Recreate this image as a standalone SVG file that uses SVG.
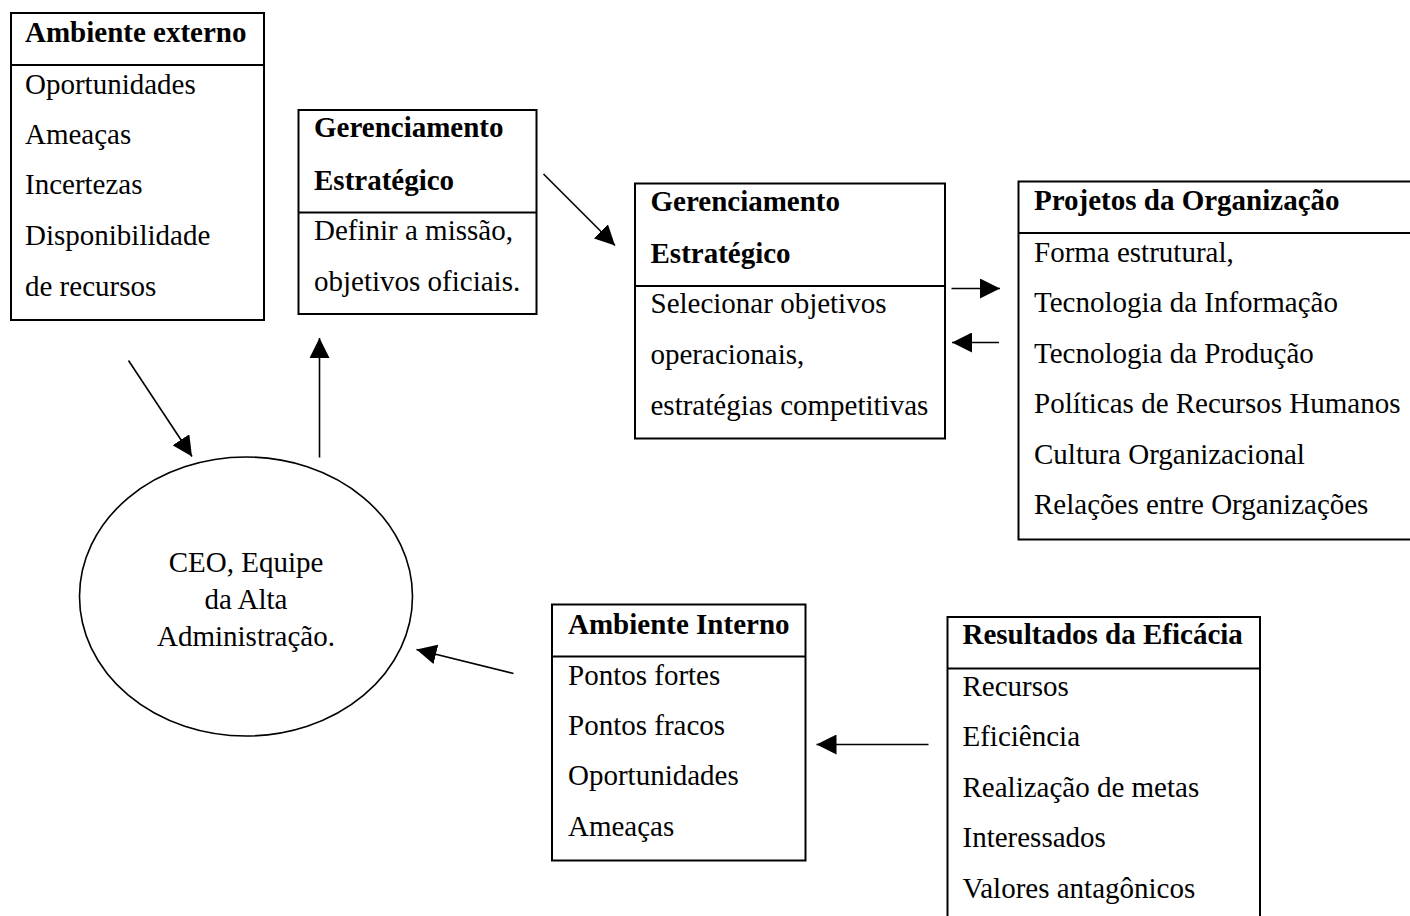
<svg xmlns="http://www.w3.org/2000/svg" width="1410" height="916" viewBox="0 0 1410 916">
  <style>
    .box { fill: #fff; stroke: #000; stroke-width: 2; }
    .div { stroke: #000; stroke-width: 2; }
    .t { font-family: "Liberation Serif", "Times New Roman", serif; font-size: 29px; fill: #000; }
    .b { font-weight: bold; }
    .c { text-anchor: middle; }
    .arrow { stroke: #000; stroke-width: 1.6; fill: none; marker-end: url(#head); }
  </style>
  <defs>
    <marker id="head" markerUnits="userSpaceOnUse" markerWidth="20" markerHeight="20" viewBox="0 0 20 20" refX="20" refY="10" orient="auto">
      <path d="M0,0 L20,10 L0,20 z" fill="#000"/>
    </marker>
  </defs>
  <rect width="1410" height="916" fill="#fff"/>

  <!-- external environment -->
  <g id="ambiente-externo">
    <rect class="box" x="11" y="13" width="253" height="307"/>
    <line class="div" x1="11" y1="65" x2="264" y2="65"/>
    <text class="t b" x="25" y="42">Ambiente externo</text>
    <text class="t" x="25" y="94">Oportunidades</text>
    <text class="t" x="25" y="144">Ameaças</text>
    <text class="t" x="25" y="194">Incertezas</text>
    <text class="t" x="25" y="245">Disponibilidade</text>
    <text class="t" x="25" y="296">de recursos</text>
  </g>

  <!-- strategic management: mission -->
  <g id="gerenciamento-1">
    <rect class="box" x="298.5" y="110" width="238" height="204"/>
    <line class="div" x1="298.5" y1="212.5" x2="536.5" y2="212.5"/>
    <text class="t b" x="314" y="137">Gerenciamento</text>
    <text class="t b" x="314" y="189.5">Estratégico</text>
    <text class="t" x="314" y="239.5">Definir a missão,</text>
    <text class="t" x="314" y="291">objetivos oficiais.</text>
  </g>

  <!-- strategic management: operational goals -->
  <g id="gerenciamento-2">
    <rect class="box" x="635" y="183.5" width="310" height="255"/>
    <line class="div" x1="635" y1="286" x2="945" y2="286"/>
    <text class="t b" x="650.5" y="211">Gerenciamento</text>
    <text class="t b" x="650.5" y="263">Estratégico</text>
    <text class="t" x="650.5" y="313">Selecionar objetivos</text>
    <text class="t" x="650.5" y="364">operacionais,</text>
    <text class="t" x="650.5" y="414.5">estratégias competitivas</text>
  </g>

  <!-- organisation design -->
  <g id="projetos">
    <rect class="box" x="1018.5" y="181.5" width="400" height="358"/>
    <line class="div" x1="1018.5" y1="233" x2="1418" y2="233"/>
    <text class="t b" x="1034" y="210">Projetos da Organização</text>
    <text class="t" x="1034" y="262">Forma estrutural,</text>
    <text class="t" x="1034" y="312">Tecnologia da Informação</text>
    <text class="t" x="1034" y="362.5">Tecnologia da Produção</text>
    <text class="t" x="1034" y="413">Políticas de Recursos Humanos</text>
    <text class="t" x="1034" y="464">Cultura Organizacional</text>
    <text class="t" x="1034" y="514">Relações entre Organizações</text>
  </g>

  <!-- top management -->
  <g id="ceo">
    <ellipse cx="246" cy="596.5" rx="166.5" ry="139.5" fill="#fff" stroke="#000" stroke-width="1.6"/>
    <text class="t c" x="246" y="572">CEO, Equipe</text>
    <text class="t c" x="246" y="609">da Alta</text>
    <text class="t c" x="246" y="646">Administração.</text>
  </g>

  <!-- internal environment -->
  <g id="ambiente-interno">
    <rect class="box" x="552" y="604.5" width="253.5" height="256"/>
    <line class="div" x1="552" y1="656.5" x2="805.5" y2="656.5"/>
    <text class="t b" x="568" y="634">Ambiente Interno</text>
    <text class="t" x="568" y="684.5">Pontos fortes</text>
    <text class="t" x="568" y="734.5">Pontos fracos</text>
    <text class="t" x="568" y="785">Oportunidades</text>
    <text class="t" x="568" y="836">Ameaças</text>
  </g>

  <!-- effectiveness outcomes -->
  <g id="resultados">
    <rect class="box" x="947.5" y="617" width="312.5" height="320"/>
    <line class="div" x1="947.5" y1="668.5" x2="1260" y2="668.5"/>
    <text class="t b" x="962.5" y="644">Resultados da Eficácia</text>
    <text class="t" x="962.5" y="696">Recursos</text>
    <text class="t" x="962.5" y="746">Eficiência</text>
    <text class="t" x="962.5" y="797">Realização de metas</text>
    <text class="t" x="962.5" y="847">Interessados</text>
    <text class="t" x="962.5" y="897.5">Valores antagônicos</text>
  </g>

  <!-- connectors -->
  <g id="connectors">
    <line class="arrow" x1="128.5" y1="360.5" x2="192" y2="456.5"/>
    <line class="arrow" x1="319.5" y1="457.5" x2="319.5" y2="338"/>
    <line class="arrow" x1="543.5" y1="174" x2="615" y2="245.5"/>
    <line class="arrow" x1="951.5" y1="288.5" x2="1000" y2="288.5"/>
    <line class="arrow" x1="999" y1="342.5" x2="952" y2="342.5"/>
    <line class="arrow" x1="928.5" y1="744.5" x2="816.5" y2="744.5"/>
    <line class="arrow" x1="513.5" y1="673.5" x2="416.5" y2="649.5"/>
  </g>
</svg>
